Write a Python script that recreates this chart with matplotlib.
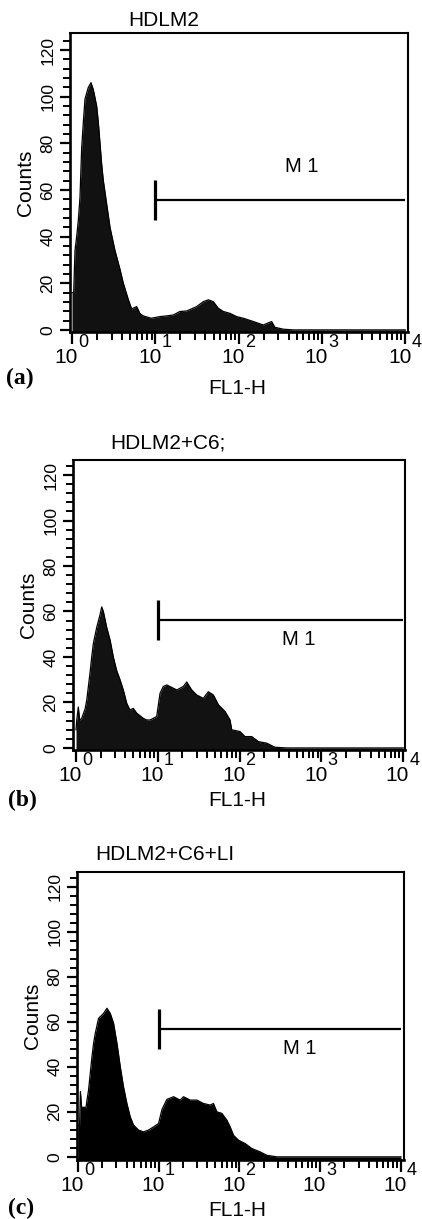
"""Flow cytometry FL1-H histograms for HDLM2, HDLM2+C6 and HDLM2+C6+LI, stacked (a)-(c)."""
import numpy as np
import matplotlib
matplotlib.use('Agg')
import matplotlib.pyplot as plt
from matplotlib.ticker import FixedLocator, LogLocator, MultipleLocator, NullFormatter

plt.rcParams['font.family'] = ['Liberation Sans', 'DejaVu Sans']

W, H = 422, 1219

SAMPLES = ['HDLM2', 'HDLM2+C6;', 'HDLM2+C6+LI']
TAGS = ['(a)', '(b)', '(c)']
DECADES = [0, 1, 2, 3, 4]

# histogram outlines: log10(FL1-H) and counts
A_LOG = [0.0, 0.02, 0.036, 0.056, 0.076, 0.096, 0.116, 0.136, 0.156, 0.196, 0.228,
         0.256, 0.296, 0.316, 0.336, 0.356, 0.376, 0.416, 0.456, 0.516, 0.576, 0.616,
         0.676, 0.716, 0.776, 0.816, 0.856, 0.95, 1.056, 1.136, 1.216, 1.296, 1.376,
         1.496, 1.576, 1.636, 1.696, 1.756, 1.816, 1.896, 1.976, 2.056, 2.176, 2.296,
         2.396, 2.436, 2.536, 2.656, 3.0, 3.5, 4.0]
A_COUNTS = [16, 16, 34, 40, 47, 57, 78, 89, 99, 104, 106,
            103, 96, 89, 80, 71, 64, 54, 44, 34, 26, 20,
            13, 9, 10, 7, 6, 5, 5.7, 6, 6.4, 7.9, 8.1,
            10, 12.1, 12.9, 12.1, 9.3, 7.9, 7.1, 5.7, 5, 3.6, 2.1,
            3.6, 1.1, 0.3, 0, 0, 0, 0]

B_LOG = [0.0, 0.008, 0.028, 0.045, 0.069, 0.11, 0.131, 0.151, 0.171, 0.192, 0.212,
         0.253, 0.293, 0.314, 0.334, 0.375, 0.416, 0.456, 0.497, 0.538, 0.578, 0.62,
         0.66, 0.70, 0.742, 0.823, 0.864, 0.905, 0.986, 1.027, 1.067, 1.109, 1.149,
         1.231, 1.312, 1.353, 1.414, 1.475, 1.556, 1.617, 1.679, 1.74, 1.822, 1.883,
         1.903, 2.005, 2.066, 2.148, 2.229, 2.331, 2.433, 2.576, 3.0, 4.0]
B_COUNTS = [8, 12, 18, 12, 13, 17, 21, 27, 33, 40, 46,
            53, 58.5, 62, 60, 53, 47.5, 40, 34, 30, 25.5, 19.6,
            16.7, 17.4, 15.3, 13, 12.3, 12.3, 13.8, 24, 27, 27.7, 27,
            25.5, 27, 29, 25.5, 23.3, 21.8, 24.7, 23.3, 19, 16, 12.3,
            8, 7.2, 5, 5, 2.8, 2.1, 0.3, 0, 0, 0]

C_LOG = [0.0, 0.02, 0.03, 0.045, 0.07, 0.1, 0.111, 0.131, 0.152, 0.173, 0.193,
         0.214, 0.255, 0.317, 0.359, 0.4, 0.441, 0.483, 0.524, 0.564, 0.606, 0.647,
         0.688, 0.75, 0.812, 0.874, 0.936, 0.998, 1.04, 1.101, 1.184, 1.266, 1.307,
         1.39, 1.473, 1.554, 1.637, 1.678, 1.72, 1.782, 1.844, 1.885, 1.926, 1.988,
         2.071, 2.153, 2.256, 2.339, 2.463, 3.0, 4.0]
C_COUNTS = [14, 14, 29, 22, 22, 22, 25, 29.6, 37, 44.4, 50.4,
            54.8, 61.5, 63.7, 66, 63.7, 59.3, 50.4, 40, 31.1, 23.7, 17.8,
            14.1, 11.9, 11.1, 11.9, 13.3, 14.8, 21, 25.5, 26.7, 25.2, 26.7,
            25.2, 25.2, 23.7, 23, 23.7, 20, 19.3, 16.3, 13.3, 9.6, 7.4,
            5.9, 3.7, 2.2, 0.7, 0, 0, 0]

# M1 gate: from 10^1 to 10^4 at the given count level
M1_START = 10
M1_END = 1e4
M1_LEVEL = [55.7, 56.3, 56.8]

LOGS = [A_LOG, B_LOG, C_LOG]
COUNTS = [A_COUNTS, B_COUNTS, C_COUNTS]

# layout, in pixels of the 422x1219 figure
BOXES = [(70, 33, 408, 332), (73, 460, 405, 750), (77, 872, 404, 1160)]
XLIMS = [(-0.024, 4.033), (-0.037, 4.022), (-0.012, 4.038)]
YLIMS = [(-0.9, 127.3), (-0.9, 126.6), (-1.4, 126.5)]
TITLE_POS = [(128, 20), (110, 443), (95, 855)]
TAG_POS = [(6, 378), (8, 800), (8, 1208)]
XLABEL_Y = [388, 800, 1211]
M1_TEXT = [(10 ** 2.757, 70), (10 ** 2.72, 47.5), (10 ** 2.75, 48)]
FILL = ['#111111', '#121212', 'black']


def ftext(fig, x, y, s, **kw):
    fig.text(x / W, 1 - y / H, s, **kw)


def main():
    fig = plt.figure(figsize=(W / 100, H / 100), dpi=100)

    for i in range(3):
        l, t, r, b = BOXES[i]
        ax = fig.add_axes([l / W, 1 - b / H, (r - l) / W, (b - t) / H])
        x = 10 ** np.array(LOGS[i])
        y = np.array(COUNTS[i])
        ax.fill_between(x, y, YLIMS[i][0], color=FILL[i], lw=0)
        ax.plot(x, y, color='black', lw=0.9)

        ax.set_xscale('log')
        ax.set_xlim(10 ** XLIMS[i][0], 10 ** XLIMS[i][1])
        ax.set_ylim(*YLIMS[i])

        # gate marker
        ax.plot([M1_START, M1_END], [M1_LEVEL[i]] * 2, color='black', lw=1.6,
                solid_capstyle='butt')
        ax.plot([M1_START] * 2, [M1_LEVEL[i] - 8.7, M1_LEVEL[i] + 8.7],
                color='black', lw=2.3, solid_capstyle='butt')
        ax.text(*M1_TEXT[i], 'M 1', fontsize=14.5, ha='center', va='center')

        ax.xaxis.set_major_locator(FixedLocator([10.0 ** d for d in DECADES]))
        ax.xaxis.set_minor_locator(LogLocator(base=10, subs=np.arange(2, 10)))
        ax.xaxis.set_major_formatter(NullFormatter())
        ax.xaxis.set_minor_formatter(NullFormatter())
        ax.yaxis.set_major_locator(MultipleLocator(20))
        ax.yaxis.set_minor_locator(MultipleLocator(4))
        ax.tick_params(axis='x', which='major', direction='out', length=8.5, width=1.6)
        ax.tick_params(axis='x', which='minor', direction='out', length=5.5, width=1.4)
        ax.tick_params(axis='y', which='major', direction='out', length=7.5, width=1.6,
                       pad=3, labelsize=12.5)
        ax.tick_params(axis='y', which='minor', direction='out', length=5, width=1.4)
        for lab in ax.get_yticklabels():
            lab.set_rotation(90)
            lab.set_va('center')
        for side in ['top', 'right']:
            ax.spines[side].set_linewidth(1.5)
        for side in ['left', 'bottom']:
            ax.spines[side].set_linewidth(1.9)

        # decade labels: "10" with a large raised exponent
        for d in DECADES:
            ax.annotate('10', xy=(10.0 ** d, 0), xycoords=('data', 'axes fraction'),
                        xytext=(6, -31), textcoords='offset pixels',
                        ha='right', va='baseline', fontsize=15)
            ax.annotate(str(d), xy=(10.0 ** d, 0), xycoords=('data', 'axes fraction'),
                        xytext=(6, -15), textcoords='offset pixels',
                        ha='left', va='baseline', fontsize=13)

        ax.set_ylabel('Counts', fontsize=15, labelpad=4)

        ftext(fig, *TITLE_POS[i], SAMPLES[i], fontsize=15, ha='left', va='center')
        ftext(fig, 237, XLABEL_Y[i], 'FL1-H', fontsize=15, ha='center', va='center')
        ftext(fig, *TAG_POS[i], TAGS[i], fontsize=17, fontweight='bold',
              family=['Liberation Serif', 'DejaVu Serif'], ha='left', va='center')

    fig.savefig('out.png', dpi=100)


if __name__ == '__main__':
    main()
